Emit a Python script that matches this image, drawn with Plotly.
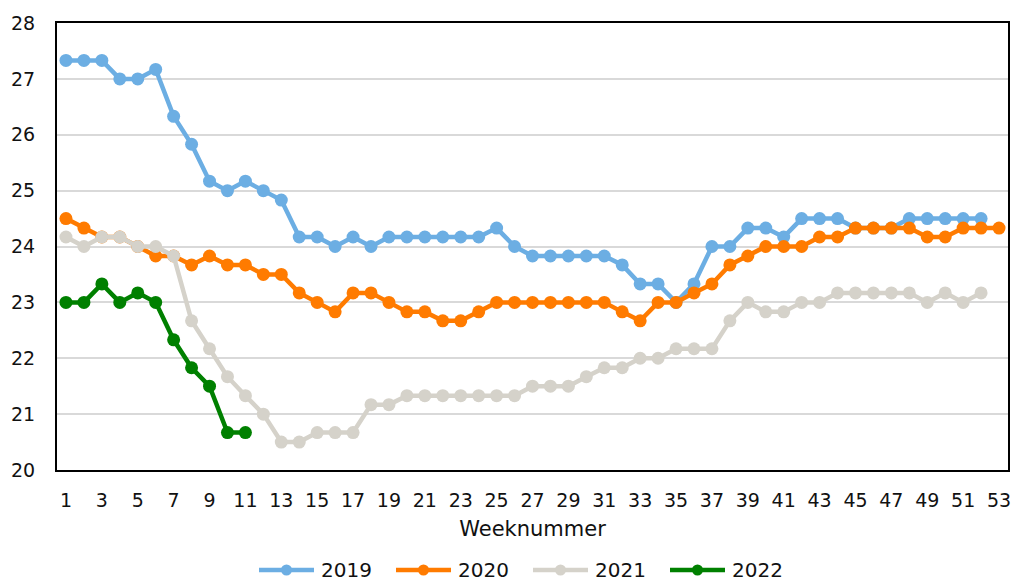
import plotly.graph_objects as go

weeks = list(range(1, 54))

y2019 = [27.33, 27.33, 27.33, 27.0, 27.0, 27.17, 26.33, 25.83, 25.17, 25.0,
         25.17, 25.0, 24.83, 24.17, 24.17, 24.0, 24.17, 24.0, 24.17, 24.17,
         24.17, 24.17, 24.17, 24.17, 24.33, 24.0, 23.83, 23.83, 23.83, 23.83,
         23.83, 23.67, 23.33, 23.33, 23.0, 23.33, 24.0, 24.0, 24.33, 24.33,
         24.17, 24.5, 24.5, 24.5, 24.33, 24.33, 24.33, 24.5, 24.5, 24.5,
         24.5, 24.5]

y2020 = [24.5, 24.33, 24.17, 24.17, 24.0, 23.83, 23.83, 23.67, 23.83, 23.67,
         23.67, 23.5, 23.5, 23.17, 23.0, 22.83, 23.17, 23.17, 23.0, 22.83,
         22.83, 22.67, 22.67, 22.83, 23.0, 23.0, 23.0, 23.0, 23.0, 23.0,
         23.0, 22.83, 22.67, 23.0, 23.0, 23.17, 23.33, 23.67, 23.83, 24.0,
         24.0, 24.0, 24.17, 24.17, 24.33, 24.33, 24.33, 24.33, 24.17, 24.17,
         24.33, 24.33, 24.33]

y2021 = [24.17, 24.0, 24.17, 24.17, 24.0, 24.0, 23.83, 22.67, 22.17, 21.67,
         21.33, 21.0, 20.5, 20.5, 20.67, 20.67, 20.67, 21.17, 21.17, 21.33,
         21.33, 21.33, 21.33, 21.33, 21.33, 21.33, 21.5, 21.5, 21.5, 21.67,
         21.83, 21.83, 22.0, 22.0, 22.17, 22.17, 22.17, 22.67, 23.0, 22.83,
         22.83, 23.0, 23.0, 23.17, 23.17, 23.17, 23.17, 23.17, 23.0, 23.17,
         23.0, 23.17]

y2022 = [23.0, 23.0, 23.33, 23.0, 23.17, 23.0, 22.33, 21.83, 21.5, 20.67, 20.67]

series = [
    ("2019", y2019, "#6caee3"),
    ("2020", y2020, "#ff7b00"),
    ("2021", y2021, "#d5d2ca"),
    ("2022", y2022, "#008000"),
]

x_ticks = list(range(1, 54, 2))
y_ticks = list(range(20, 29))

W, H = 1015, 582
ML, MR, MT, MB = 57, 7, 23, 112
PW, PH = W - ML - MR, H - MT - MB


def px_x(px):
    return (px - ML) / PW


def px_y(py):
    return (H - MB - py) / PH


fig = go.Figure()
for name, vals, color in series:
    fig.add_trace(go.Scatter(
        x=weeks[:len(vals)], y=vals, name=name, mode="lines+markers",
        line=dict(color=color, width=4.5),
        marker=dict(color=color, size=13),
        showlegend=False,
    ))

# manual legend (below the axis title)
leg_y = px_y(570)
shapes, annotations = [], []
for i, (name, vals, color) in enumerate(series):
    x0 = 259 + 137 * i
    x1 = x0 + 55
    cx = (x0 + x1) / 2
    shapes.append(dict(type="line", xref="paper", yref="paper",
                       x0=px_x(x0), x1=px_x(x1), y0=leg_y, y1=leg_y,
                       line=dict(color=color, width=4.5), layer="above"))
    r = 5.5
    shapes.append(dict(type="circle", xref="paper", yref="paper",
                       x0=px_x(cx - r), x1=px_x(cx + r),
                       y0=leg_y - r / PH, y1=leg_y + r / PH,
                       fillcolor=color, line=dict(color=color, width=0), layer="above"))
    annotations.append(dict(text=name, xref="paper", yref="paper",
                            x=px_x(x1 + 5), y=leg_y, xanchor="left", yanchor="middle",
                            showarrow=False, font=dict(size=20, color="#111111")))

font = dict(family="DejaVu Sans, Verdana, sans-serif", size=19, color="#111111")

fig.update_layout(
    width=W, height=H, autosize=False,
    margin=dict(l=ML, r=MR, t=MT, b=MB, pad=0),
    paper_bgcolor="white", plot_bgcolor="white",
    font=font,
    showlegend=False,
    shapes=shapes,
    annotations=annotations,
    xaxis=dict(
        range=[0.5, 53.5], tickvals=x_ticks, ticktext=[str(t) for t in x_ticks],
        showgrid=False, showline=True, linecolor="black", linewidth=2, mirror=True,
        ticks="", zeroline=False, ticklabelstandoff=12, automargin=False,
        title=dict(text="Weeknummer", font=dict(size=21), standoff=12),
    ),
    yaxis=dict(
        range=[20, 28], tickvals=y_ticks, ticktext=[str(t) for t in y_ticks],
        showgrid=True, gridcolor="#d9d9d9", gridwidth=1.5,
        showline=True, linecolor="black", linewidth=2, mirror=True,
        ticks="", zeroline=False, ticklabelstandoff=16, automargin=False,
    ),
)

fig.write_html(
    "out.html",
    config={"displayModeBar": False, "responsive": False},
    post_script="document.body.style.margin='0';document.body.style.overflow='hidden';",
)
